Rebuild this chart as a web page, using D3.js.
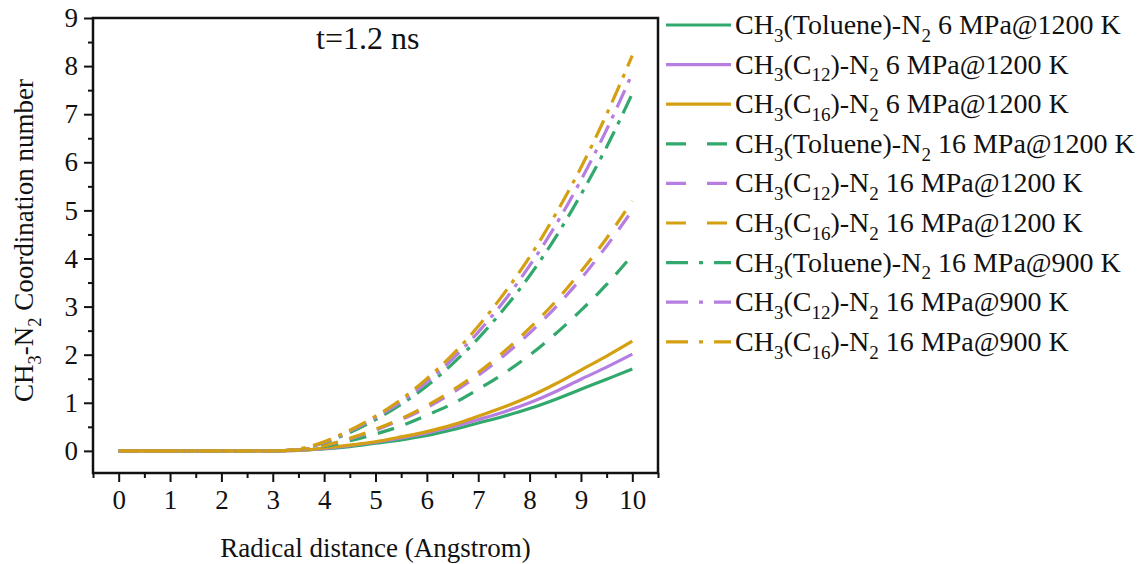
<!DOCTYPE html>
<html>
<head>
<meta charset="utf-8">
<script src="https://cdn.jsdelivr.net/npm/d3@7/dist/d3.min.js"></script>
<style>
body { margin: 0; background: #fff; }
svg text { font-family: "Liberation Serif", "DejaVu Serif", "Times New Roman", serif; fill: #111; }
</style>
</head>
<body>
<div id="chart"></div>
<script>
// Radial distance points (Angstrom)
var radius = [0, 1, 2, 3, 3.5, 4, 4.5, 5, 5.5, 6, 6.5, 7, 7.5, 8, 8.5, 9, 9.5, 10];

// Coordination numbers
var tol6_1200  = [0, 0, 0, 0, 0.01, 0.04, 0.09, 0.16, 0.23, 0.32, 0.44, 0.58, 0.72, 0.88, 1.07, 1.28, 1.49, 1.70];
var c12_6_1200 = [0, 0, 0, 0, 0.01, 0.05, 0.11, 0.18, 0.27, 0.37, 0.50, 0.65, 0.81, 1.00, 1.23, 1.49, 1.74, 2.01];
var c16_6_1200 = [0, 0, 0, 0, 0.01, 0.06, 0.12, 0.19, 0.29, 0.40, 0.54, 0.72, 0.91, 1.13, 1.39, 1.68, 1.97, 2.28];
var tol16_1200 = [0, 0, 0, 0, 0.02, 0.09, 0.21, 0.35, 0.52, 0.74, 0.98, 1.28, 1.61, 1.99, 2.43, 2.92, 3.46, 4.07];
var c12_16_1200 = [0, 0, 0, 0, 0.02, 0.11, 0.25, 0.43, 0.65, 0.90, 1.21, 1.57, 1.98, 2.45, 2.98, 3.58, 4.26, 5.00];
var c16_16_1200 = [0, 0, 0, 0, 0.02, 0.11, 0.26, 0.45, 0.67, 0.94, 1.26, 1.63, 2.06, 2.55, 3.10, 3.73, 4.42, 5.20];
var tol16_900  = [0, 0, 0, 0, 0.03, 0.17, 0.38, 0.65, 0.97, 1.35, 1.81, 2.34, 2.95, 3.64, 4.43, 5.33, 6.32, 7.43];
var c12_16_900 = [0, 0, 0, 0, 0.03, 0.18, 0.41, 0.69, 1.02, 1.43, 1.91, 2.47, 3.11, 3.85, 4.68, 5.63, 6.68, 7.85];
var c16_16_900 = [0, 0, 0, 0, 0.04, 0.19, 0.43, 0.72, 1.07, 1.50, 2.00, 2.59, 3.27, 4.03, 4.91, 5.89, 7.00, 8.22];

var legendLabels = [
	'CH_3(Toluene)-N_2 6 MPa@1200 K',
	'CH_3(C_12)-N_2 6 MPa@1200 K',
	'CH_3(C_16)-N_2 6 MPa@1200 K',
	'CH_3(Toluene)-N_2 16 MPa@1200 K',
	'CH_3(C_12)-N_2 16 MPa@1200 K',
	'CH_3(C_16)-N_2 16 MPa@1200 K',
	'CH_3(Toluene)-N_2 16 MPa@900 K',
	'CH_3(C_12)-N_2 16 MPa@900 K',
	'CH_3(C_16)-N_2 16 MPa@900 K'
];

var xTicks = [0, 1, 2, 3, 4, 5, 6, 7, 8, 9, 10];
var yTicks = [0, 1, 2, 3, 4, 5, 6, 7, 8, 9];

var green = '#31a86c', purple = '#b67ee0', gold = '#d4a012';
var dashed = '17,12', dashDot = '19,8,4,8';

var series = [
	{values: tol6_1200, color: green, dash: null},
	{values: c12_6_1200, color: purple, dash: null},
	{values: c16_6_1200, color: gold, dash: null},
	{values: tol16_1200, color: green, dash: dashed},
	{values: c12_16_1200, color: purple, dash: dashed},
	{values: c16_16_1200, color: gold, dash: dashed},
	{values: tol16_900, color: green, dash: dashDot},
	{values: c12_16_900, color: purple, dash: dashDot},
	{values: c16_16_900, color: gold, dash: dashDot}
];

var serif = '"Liberation Serif", "DejaVu Serif", "Times New Roman", serif';

var fullWidth = 1139, fullHeight = 564;
var margin = {top: 18, right: 481, bottom: 91, left: 93};
var width = fullWidth - margin.left - margin.right;
var height = fullHeight - margin.top - margin.bottom;

var svg = d3.select('#chart')
	.append('svg')
	.attr('width', fullWidth)
	.attr('height', fullHeight)
	.attr('font-family', serif);

var g = svg.append('g')
	.attr('transform', 'translate(' + margin.left + ',' + margin.top + ')');

var xScale = d3.scaleLinear().domain([-0.5, 10.5]).range([0, width]);
var yScale = d3.scaleLinear().domain([-0.46, 9]).range([height, 0]);

// write text with _digits as subscripts
function addRich(sel, str, size) {
	var parts = str.split(/_(\d+)/);
	var shift = 0;
	parts.forEach(function(p, i) {
		if (p === '') return;
		var sub = (i % 2 === 1);
		var target = sub ? size * 0.28 : 0;
		var ts = sel.append('tspan').attr('dy', target - shift).text(p);
		if (sub) ts.attr('font-size', size * 0.68);
		shift = target;
	});
}

// Minor ticks
var xMinor = d3.range(-0.5, 10.6, 1);
var yMinor = d3.range(-0.5, 9, 1).filter(function(v) { return v >= -0.46; });

g.append('g')
	.attr('transform', 'translate(0,' + height + ')')
	.call(d3.axisBottom(xScale).tickValues(xMinor).tickSize(5).tickFormat(''))
	.call(function(a) { a.select('.domain').remove(); });

g.append('g')
	.call(d3.axisLeft(yScale).tickValues(yMinor).tickSize(5).tickFormat(''))
	.call(function(a) { a.select('.domain').remove(); });

// Major ticks
g.append('g')
	.attr('transform', 'translate(0,' + height + ')')
	.call(d3.axisBottom(xScale).tickValues(xTicks).tickSize(9).tickPadding(8).tickFormat(d3.format('d')))
	.call(function(a) { a.select('.domain').remove(); });

g.append('g')
	.call(d3.axisLeft(yScale).tickValues(yTicks).tickSize(9).tickPadding(6).tickFormat(d3.format('d')))
	.call(function(a) { a.select('.domain').remove(); });

g.selectAll('g').attr('font-family', serif);
g.selectAll('.tick line').attr('stroke', '#111').attr('stroke-width', 2);
g.selectAll('.tick text')
	.attr('font-size', 27)
	.attr('fill', '#222');

// Frame
g.append('rect')
	.attr('width', width)
	.attr('height', height)
	.attr('fill', 'none')
	.attr('stroke', '#111')
	.attr('stroke-width', 2.5);

// Curves
var line = d3.line()
	.x(function(d, i) { return xScale(radius[i]); })
	.y(function(d) { return yScale(d); })
	.curve(d3.curveMonotoneX);

g.selectAll('path.curve')
	.data(series)
	.enter()
	.append('path')
	.attr('class', 'curve')
	.attr('d', function(d) { return line(d.values); })
	.attr('fill', 'none')
	.attr('stroke', function(d) { return d.color; })
	.attr('stroke-width', 3.2)
	.attr('stroke-dasharray', function(d) { return d.dash; });

// Annotation
g.append('text')
	.attr('x', xScale(4.85))
	.attr('y', 31)
	.attr('text-anchor', 'middle')
	.attr('font-size', 32)
	.text('t=1.2 ns');

// Axis titles
svg.append('text')
	.attr('x', margin.left + xScale(5))
	.attr('y', 557)
	.attr('text-anchor', 'middle')
	.attr('font-size', 27)
	.text('Radical distance (Angstrom)');

var yTitle = svg.append('text')
	.attr('transform', 'translate(33,' + (margin.top + height / 2 - 5) + ') rotate(-90)')
	.attr('text-anchor', 'middle')
	.attr('font-size', 27);
addRich(yTitle, 'CH_3-N_2 Coordination number', 27);

// Legend
var legend = svg.append('g');
series.forEach(function(s, i) {
	var y = 25 + i * 39.6;
	legend.append('line')
		.attr('x1', 666).attr('x2', 731)
		.attr('y1', y).attr('y2', y)
		.attr('stroke', s.color)
		.attr('stroke-width', 3.2)
		.attr('stroke-dasharray', s.dash === dashed ? '20,21' : (s.dash === dashDot ? '22,11,4,11' : null));
	var t = legend.append('text')
		.attr('x', 735)
		.attr('y', y + 9)
		.attr('font-size', 28);
	addRich(t, legendLabels[i], 28);
});
</script>
</body>
</html>
